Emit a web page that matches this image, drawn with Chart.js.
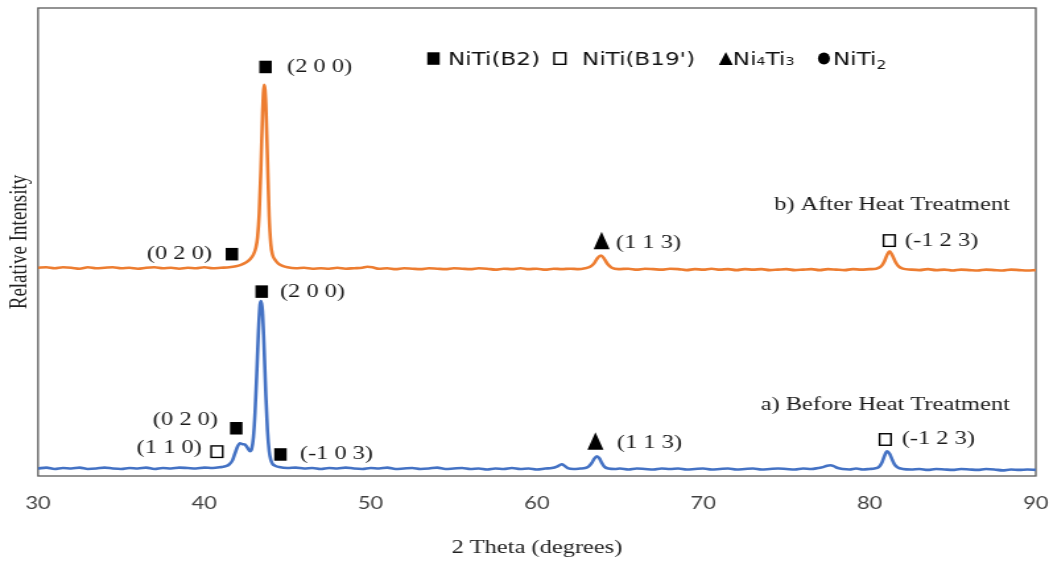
<!DOCTYPE html>
<html>
<head>
<meta charset="utf-8">
<script src="https://cdn.jsdelivr.net/npm/chart.js@4.4.0/dist/chart.umd.min.js"></script>
<style>
  html, body { margin: 0; padding: 0; background: #fff; overflow: hidden; }
  /* the source figure is stretched sideways, so the chart is drawn narrow and widened */
  #wrap { width: 798px; height: 562px; transform: scaleX(1.3195); transform-origin: 0 0; }
</style>
</head>
<body>
<div id="wrap"><canvas id="xrd" width="798" height="562"></canvas></div>
<script>
// 2 theta ticks
const tickValues = [30, 40, 50, 60, 70, 80, 90];

// a) before heat treatment
const beforeTheta = [30.0, 30.5, 31.0, 31.5, 32.0, 32.5, 33.0, 33.5, 34.0, 34.5, 35.0, 35.5, 36.0, 36.5, 37.0, 37.5, 38.0, 38.5, 39.0, 39.5,
  40.0, 40.5, 41.0, 41.3, 41.5, 41.7, 41.85, 42.0, 42.15, 42.3, 42.45, 42.6, 42.75, 42.85, 42.95, 43.05, 43.15, 43.25, 43.35, 43.42,
  43.5, 43.6, 43.7, 43.8, 43.9, 44.0, 44.1, 44.25, 44.5, 45.0, 45.5, 46.0, 46.5, 47.0, 47.5, 48.0, 48.5, 49.0, 49.5, 50.0,
  50.5, 51.0, 51.5, 52.0, 52.5, 53.0, 53.5, 54.0, 54.5, 55.0, 55.5, 56.0, 56.5, 57.0, 57.5, 58.0, 58.5, 59.0, 59.5, 60.0,
  60.5, 60.9, 61.2, 61.4, 61.5, 61.65, 61.85, 62.2, 62.6, 62.9, 63.1, 63.3, 63.45, 63.6, 63.75, 63.9, 64.05, 64.3, 64.7, 65.0,
  65.5, 66.0, 66.5, 67.0, 67.5, 68.0, 68.5, 69.0, 69.5, 70.0, 70.5, 71.0, 71.5, 72.0, 72.5, 73.0, 73.5, 74.0, 74.5, 75.0,
  75.5, 76.0, 76.5, 76.9, 77.2, 77.45, 77.65, 77.85, 78.1, 78.4, 78.8, 79.2, 79.6, 80.0, 80.3, 80.55, 80.75, 80.9, 81.05, 81.2,
  81.35, 81.5, 81.7, 82.0, 82.5, 83.0, 83.5, 84.0, 84.5, 85.0, 85.5, 86.0, 86.5, 87.0, 87.5, 88.0, 88.5, 89.0, 89.5, 90.0];
const beforeIntensity = [1.6, 1.8, 1.5, 1.7, 1.6, 1.8, 1.5, 1.6, 1.8, 1.6, 1.5, 1.7, 1.6, 1.8, 1.5, 1.7, 1.6, 1.8, 1.7, 1.6,
  1.8, 1.7, 1.9, 2.1, 2.5, 3.4, 4.9, 6.3, 7.0, 6.8, 6.7, 6.0, 5.3, 5.8, 8.2, 13.5, 21.5, 30.5, 36.6, 37.4,
  35.2, 27.0, 17.2, 9.6, 5.3, 3.4, 2.6, 2.2, 1.9, 1.7, 1.8, 1.6, 1.7, 1.5, 1.7, 1.6, 1.8, 1.6, 1.5, 1.7,
  1.6, 1.8, 1.5, 1.6, 1.7, 1.5, 1.6, 1.8, 1.5, 1.6, 1.7, 1.5, 1.6, 1.4, 1.6, 1.5, 1.7, 1.5, 1.6, 1.4,
  1.6, 1.7, 2.0, 2.4, 2.5, 2.2, 1.7, 1.5, 1.6, 1.7, 2.0, 2.8, 3.7, 4.2, 3.8, 2.8, 2.0, 1.6, 1.5, 1.6,
  1.4, 1.6, 1.5, 1.4, 1.6, 1.5, 1.6, 1.4, 1.5, 1.6, 1.4, 1.5, 1.6, 1.4, 1.5, 1.6, 1.4, 1.5, 1.6, 1.5,
  1.4, 1.6, 1.5, 1.7, 1.9, 2.2, 2.3, 2.1, 1.7, 1.5, 1.4, 1.6, 1.4, 1.5, 1.6, 1.9, 2.9, 4.3, 5.3, 4.8,
  3.6, 2.5, 1.8, 1.5, 1.4, 1.5, 1.3, 1.5, 1.4, 1.3, 1.5, 1.4, 1.3, 1.5, 1.4, 1.2, 1.4, 1.3, 1.4, 1.3];

// b) after heat treatment (shifted up)
const afterTheta = [30.0, 30.5, 31.0, 31.5, 32.0, 32.5, 33.0, 33.5, 34.0, 34.5, 35.0, 35.5, 36.0, 36.5, 37.0, 37.5, 38.0, 38.5, 39.0, 39.5,
  40.0, 40.5, 41.0, 41.5, 41.9, 42.2, 42.5, 42.75, 42.95, 43.1, 43.2, 43.3, 43.4, 43.5, 43.6, 43.7, 43.8, 43.9, 44.0, 44.1,
  44.25, 44.45, 44.7, 45.0, 45.5, 46.0, 46.5, 47.0, 47.5, 48.0, 48.5, 49.0, 49.5, 49.8, 50.1, 50.5, 51.0, 51.5, 52.0, 52.5,
  53.0, 53.5, 54.0, 54.5, 55.0, 55.5, 56.0, 56.5, 57.0, 57.5, 58.0, 58.5, 59.0, 59.5, 60.0, 60.5, 61.0, 61.5, 62.0, 62.5,
  62.9, 63.2, 63.45, 63.65, 63.85, 64.05, 64.25, 64.5, 64.9, 65.5, 66.0, 66.5, 67.0, 67.5, 68.0, 68.5, 69.0, 69.5, 70.0, 70.5,
  71.0, 71.5, 72.0, 72.5, 73.0, 73.5, 74.0, 74.5, 75.0, 75.5, 76.0, 76.5, 77.0, 77.5, 78.0, 78.5, 79.0, 79.5, 80.0, 80.4,
  80.7, 80.9, 81.05, 81.2, 81.35, 81.55, 81.75, 82.0, 82.5, 83.0, 83.5, 84.0, 84.5, 85.0, 85.5, 86.0, 86.5, 87.0, 87.5, 88.0,
  88.5, 89.0, 89.5, 90.0];
const afterIntensity = [44.5, 44.6, 44.4, 44.6, 44.5, 44.3, 44.6, 44.4, 44.5, 44.6, 44.4, 44.5, 44.3, 44.5, 44.6, 44.4, 44.5, 44.3, 44.5, 44.4,
  44.6, 44.4, 44.5, 44.6, 44.8, 45.1, 45.6, 46.3, 47.3, 48.8, 51.0, 56.0, 65.5, 77.5, 83.6, 79.5, 67.5, 55.5, 49.5, 47.3,
  46.2, 45.4, 44.9, 44.6, 44.4, 44.5, 44.3, 44.4, 44.3, 44.5, 44.3, 44.4, 44.5, 44.7, 44.6, 44.3, 44.4, 44.2, 44.4, 44.3,
  44.2, 44.4, 44.3, 44.2, 44.4, 44.3, 44.2, 44.4, 44.3, 44.1, 44.3, 44.2, 44.4, 44.2, 44.3, 44.1, 44.3, 44.2, 44.3, 44.2,
  44.4, 44.7, 45.5, 46.6, 47.1, 46.4, 45.3, 44.5, 44.2, 44.3, 44.1, 44.3, 44.2, 44.1, 44.3, 44.2, 44.0, 44.2, 44.1, 44.3,
  44.1, 44.2, 44.0, 44.2, 44.1, 44.2, 44.0, 44.1, 44.2, 44.0, 44.1, 44.2, 44.0, 44.2, 44.1, 44.0, 44.2, 44.1, 44.2, 44.3,
  44.8, 45.9, 47.2, 48.0, 47.3, 45.8, 44.8, 44.3, 44.1, 44.0, 44.2, 44.0, 44.1, 43.9, 44.1, 44.0, 43.9, 44.1, 44.0, 43.9,
  44.1, 44.0, 43.9, 44.0];

// peak markers: [2theta, intensity, phase]
const peakMarks = [
  [43.68, 87.4, 'B2'], [41.66, 47.4, 'B2'], [63.89, 50.3, 'Ni4Ti3'], [81.19, 50.3, "B19'"],
  [43.45, 39.4, 'B2'], [41.92, 10.2, 'B2'], [40.76, 5.2, "B19'"], [44.58, 4.6, 'B2'],
  [63.52, 7.5, 'Ni4Ti3'], [80.95, 7.8, "B19'"]
];
// peak and curve labels: [text, 2theta, intensity, anchor]
const peakLabels = [
  ['(2 0 0)', 44.97, 87.3, 'left'], ['(0 2 0)', 40.46, 47.3, 'right'], ['(1 1 3)', 64.75, 49.8, 'left'],
  ['(-1 2 3)', 82.13, 50.2, 'left'], ['b) After Heat Treatment', 88.44, 57.8, 'right'],
  ['(2 0 0)', 44.55, 39.3, 'left'], ['(0 2 0)', 40.82, 11.9, 'right'], ['(1 1 0)', 39.85, 5.9, 'right'],
  ['(-1 0 3)', 45.75, 4.7, 'left'], ['(1 1 3)', 64.81, 7.1, 'left'], ['(-1 2 3)', 81.94, 7.9, 'left'],
  ['a) Before Heat Treatment', 88.44, 15.1, 'right']
];
// phase key at the top
const keyPhases = ['B2', "B19'", 'Ni4Ti3', 'NiTi2'];
const keyTexts = ['NiTi(B2)', "NiTi(B19')", 'Ni<s>4</s>Ti<s>3</s>', 'NiTi<sub>2</sub>'];
const keySymbolTheta = [53.78, 61.38, 71.36, 77.26];
const keyTextTheta = [54.65, 62.71, 71.78, 77.8];
const keyLevel = 89.2;

const STRETCH = 1053 / 798;

function toPoints(xs, ys) {
  return xs.map((x, i) => ({ x: x, y: ys[i] }));
}

function drawMark(ctx, phase, cx, cy, big) {
  ctx.save();
  ctx.fillStyle = '#000';
  ctx.strokeStyle = '#000';
  if (phase === 'B2') {
    const h = 12.5, w = 12.5 / STRETCH;
    ctx.fillRect(cx - w / 2, cy - h / 2, w, h);
  } else if (phase === "B19'") {
    const h = 11.5, w = 11.5 / STRETCH;
    ctx.lineWidth = 1.4;
    ctx.strokeRect(cx - w / 2, cy - h / 2, w, h);
  } else if (phase === 'Ni4Ti3') {
    const h = big ? 17.5 : 13, w = (big ? 16 : 14) / STRETCH;
    ctx.beginPath();
    ctx.moveTo(cx, cy - h / 2);
    ctx.lineTo(cx + w / 2, cy + h / 2);
    ctx.lineTo(cx - w / 2, cy + h / 2);
    ctx.closePath();
    ctx.fill();
  } else {
    ctx.beginPath();
    ctx.ellipse(cx, cy, 6 / STRETCH, 6, 0, 0, Math.PI * 2);
    ctx.fill();
  }
  ctx.restore();
}

function drawRuns(ctx, markup, x, cy, size) {
  const parts = markup.split(/(<s>.*?<\/s>|<sub>.*?<\/sub>)/).filter(p => p.length);
  const base = cy + size * 0.36;
  ctx.textBaseline = 'alphabetic';
  ctx.textAlign = 'left';
  parts.forEach(p => {
    let t = p, fs = size, dy = 0;
    if (p.startsWith('<s>')) { t = p.slice(3, -4); fs = size * 0.62; }
    else if (p.startsWith('<sub>')) { t = p.slice(5, -6); fs = size * 0.68; dy = size * 0.22; }
    ctx.font = fs + 'px "DejaVu Sans"';
    ctx.fillText(t, x, base + dy);
    x += ctx.measureText(t).width;
  });
}

const annotate = {
  id: 'annotate',
  beforeDatasetsDraw(chart) {
    const { ctx, chartArea: a } = chart;
    ctx.save();
    ctx.strokeStyle = '#5a5a5a';
    ctx.lineWidth = 1.3;
    ctx.strokeRect(a.left, a.top, a.right - a.left, a.bottom - a.top);
    ctx.restore();
  },
  afterDatasetsDraw(chart) {
    const { ctx } = chart;
    const xs = chart.scales.x, ys = chart.scales.y;
    peakMarks.forEach(m => drawMark(ctx, m[2], xs.getPixelForValue(m[0]), ys.getPixelForValue(m[1]), true));
    ctx.save();
    ctx.fillStyle = '#1a1a1a';
    ctx.font = '18.5px "Liberation Serif"';
    ctx.textBaseline = 'middle';
    peakLabels.forEach(l => {
      ctx.textAlign = l[3];
      ctx.fillText(l[0], xs.getPixelForValue(l[1]), ys.getPixelForValue(l[2]));
    });
    ctx.fillStyle = '#111';
    keyPhases.forEach((p, i) => {
      const cy = ys.getPixelForValue(keyLevel);
      drawMark(ctx, p, xs.getPixelForValue(keySymbolTheta[i]), cy, false);
      drawRuns(ctx, keyTexts[i], xs.getPixelForValue(keyTextTheta[i]), cy, 17.5);
    });
    ctx.restore();
  }
};

new Chart(document.getElementById('xrd'), {
  type: 'line',
  data: {
    datasets: [
      { label: 'b) After Heat Treatment', data: toPoints(afterTheta, afterIntensity), borderColor: '#ED7D31',
        borderWidth: 2.6, pointRadius: 0, cubicInterpolationMode: 'monotone' },
      { label: 'a) Before Heat Treatment', data: toPoints(beforeTheta, beforeIntensity), borderColor: '#4472C4',
        borderWidth: 2.6, pointRadius: 0, cubicInterpolationMode: 'monotone' }
    ]
  },
  options: {
    responsive: false,
    animation: false,
    layout: { padding: { left: 0, right: 13, top: 8, bottom: 0 } },
    plugins: { legend: { display: false }, tooltip: { enabled: false } },
    scales: {
      x: {
        type: 'linear', min: 30, max: 90,
        afterBuildTicks: s => { s.ticks = tickValues.map(v => ({ value: v })); },
        afterFit: s => { s.height = 86; s.paddingLeft = 0; s.paddingRight = 0; },
        grid: { display: false, drawTicks: false },
        border: { display: false },
        ticks: { padding: 18, color: '#404040', font: { family: 'Lato', size: 16.5 } },
        title: { display: true, text: '2 Theta (degrees)', color: '#222',
                 font: { family: 'Liberation Serif', size: 18.5 }, padding: { top: 0, bottom: 3 } }
      },
      y: {
        min: 0, max: 100,
        afterFit: s => { s.width = 28.8; },
        ticks: { display: false },
        grid: { display: false, drawTicks: false },
        border: { display: false },
        title: { display: true, text: 'Relative Intensity', color: '#222',
                 font: { family: 'Liberation Serif', size: 19 }, padding: { top: 3.8, bottom: 0 } }
      }
    }
  },
  plugins: [annotate]
});
</script>
</body>
</html>
